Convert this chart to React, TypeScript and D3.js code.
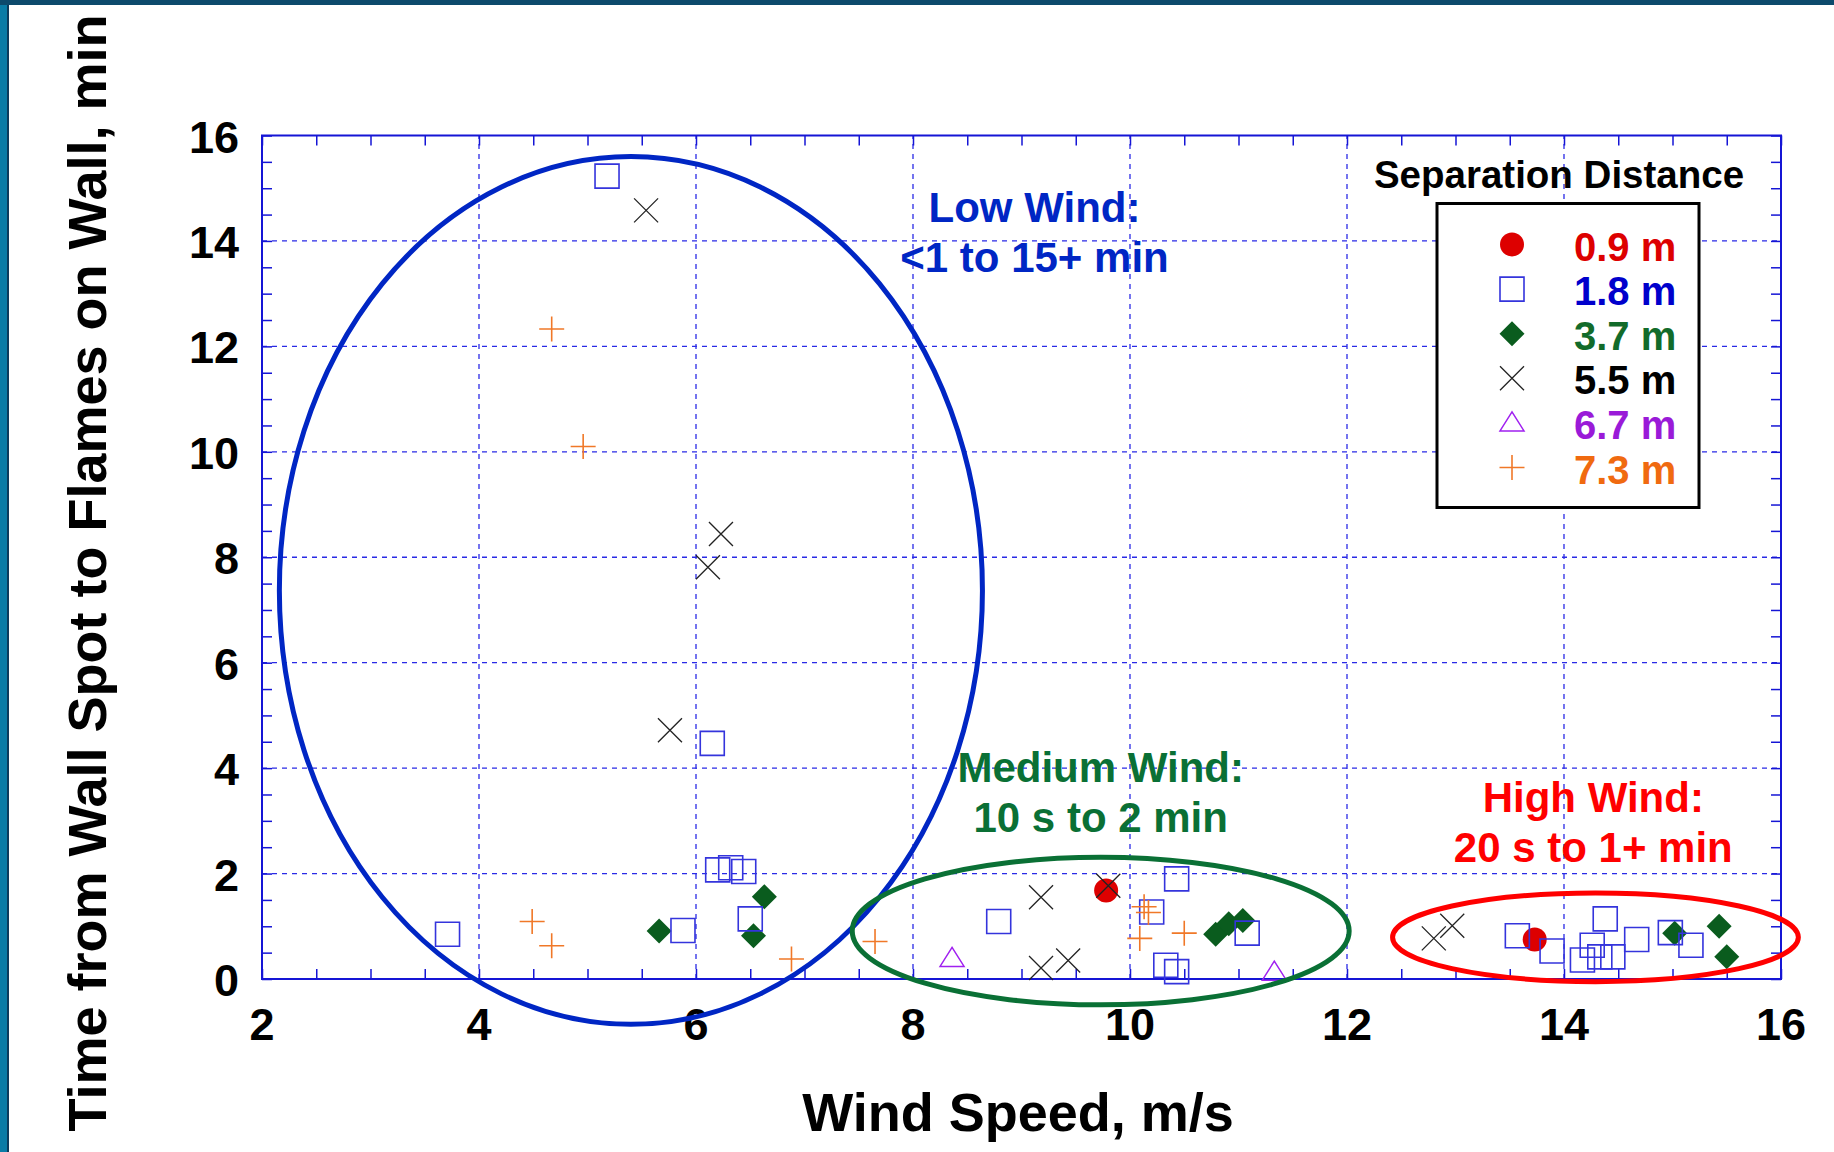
import React, { useEffect, useRef } from 'react';
import * as d3 from 'd3';

const width = 1834;
const height = 1152;

// [wind speed m/s, time min], one list per separation distance
const sep09 = [[9.78, 1.68], [13.73, 0.75]];
const sep18 = [
  [5.18, 15.23], [6.15, 4.47], [6.20, 2.07], [6.32, 2.11], [6.44, 2.04], [6.50, 1.14],
  [5.88, 0.92], [3.71, 0.85], [8.79, 1.09], [10.43, 1.90], [10.20, 1.27], [10.33, 0.26],
  [10.43, 0.14], [11.08, 0.87], [13.57, 0.82], [13.89, 0.53], [14.38, 1.14], [14.26, 0.64],
  [14.17, 0.36], [14.33, 0.42], [14.45, 0.42], [14.67, 0.75], [14.98, 0.88], [15.17, 0.64],
];
const sep37 = [
  [6.63, 1.56], [6.53, 0.82], [5.66, 0.91], [10.79, 0.85], [10.91, 1.05], [11.04, 1.11],
  [15.02, 0.87], [15.43, 1.00], [15.50, 0.42],
];
const sep55 = [
  [5.54, 14.58], [6.23, 8.44], [6.11, 7.81], [5.76, 4.72], [9.18, 1.55], [9.80, 1.77],
  [9.18, 0.21], [9.43, 0.35], [12.80, 0.77], [12.97, 1.01],
];
const sep67 = [[8.36, 0.39], [11.33, 0.13]];
const sep73 = [
  [4.67, 12.33], [4.96, 10.10], [4.49, 1.09], [4.67, 0.63], [6.88, 0.38], [7.65, 0.71],
  [10.13, 1.37], [10.17, 1.26], [10.09, 0.77], [10.50, 0.87],
];

const legendLabels = ['0.9 m', '1.8 m', '3.7 m', '5.5 m', '6.7 m', '7.3 m'];
const xTicks = [2, 4, 6, 8, 10, 12, 14, 16];
const yTicks = [0, 2, 4, 6, 8, 10, 12, 14, 16];

// wind regimes: centre x, centre y, radius x, radius y (data units)
const regions = [
  { cx: 5.40, cy: 7.37, rx: 3.24, ry: 8.23, color: '#0026c4', lines: ['Low Wind:', '<1 to 15+ min'], tx: 9.12, ty: [14.36, 13.42] },
  { cx: 9.73, cy: 0.91, rx: 2.29, ry: 1.40, color: '#0a7035', lines: ['Medium Wind:', '10 s to 2 min'], tx: 9.73, ty: [3.73, 2.78] },
  { cx: 14.29, cy: 0.79, rx: 1.87, ry: 0.84, color: '#ff0000', lines: ['High Wind:', '20 s to 1+ min'], tx: 14.27, ty: [3.17, 2.21] },
];

const font = "'Liberation Sans', Arial, Helvetica, sans-serif";

function App() {
  const ref = useRef(null);

  useEffect(() => {
    const svg = d3.select(ref.current);
    svg.selectAll('*').remove();

    const margin = { top: 135.5, right: 53, bottom: 173, left: 262 };
    const x = d3.scaleLinear().domain([2, 16]).range([margin.left, width - margin.right]);
    const y = d3.scaleLinear().domain([0, 16]).range([height - margin.bottom, margin.top]);
    const axisColor = '#1515d5';

    svg.append('rect').attr('width', width).attr('height', height).attr('fill', '#fff');
    // slide frame
    svg.append('rect').attr('x', 0).attr('y', 0).attr('width', 7).attr('height', height).attr('fill', '#0a7ca6');
    svg.append('rect').attr('x', 7).attr('y', 0).attr('width', 2).attr('height', height).attr('fill', '#0b3c5c');
    svg.append('rect').attr('x', 0).attr('y', 0).attr('width', width).attr('height', 5).attr('fill', '#0d4a6c');

    // grid
    const grid = svg.append('g').attr('stroke', '#2a2ae6').attr('stroke-width', 1.3).attr('stroke-dasharray', '5,5');
    grid.selectAll('.gx').data(xTicks.slice(1, -1)).enter().append('line')
      .attr('x1', d => x(d)).attr('x2', d => x(d)).attr('y1', y(0)).attr('y2', y(16));
    grid.selectAll('.gy').data(yTicks.slice(1, -1)).enter().append('line')
      .attr('y1', d => y(d)).attr('y2', d => y(d)).attr('x1', x(2)).attr('x2', x(16));

    // minor ticks, inside the frame on all four sides
    const xMinor = d3.range(2, 16.001, 0.5);
    const yMinor = d3.range(0, 16.001, 0.5);
    const tickAxis = (g, axis) => g.call(axis).call(g => g.select('.domain').remove())
      .call(g => g.selectAll('line').attr('stroke', axisColor).attr('stroke-width', 1.5));
    svg.append('g').attr('transform', `translate(0,${y(0)})`)
      .call(g => tickAxis(g, d3.axisBottom(x).tickValues(xMinor).tickSize(-10).tickFormat(() => '')));
    svg.append('g').attr('transform', `translate(0,${y(16)})`)
      .call(g => tickAxis(g, d3.axisTop(x).tickValues(xMinor).tickSize(-10).tickFormat(() => '')));
    svg.append('g').attr('transform', `translate(${x(2)},0)`)
      .call(g => tickAxis(g, d3.axisLeft(y).tickValues(yMinor).tickSize(-10).tickFormat(() => '')));
    svg.append('g').attr('transform', `translate(${x(16)},0)`)
      .call(g => tickAxis(g, d3.axisRight(y).tickValues(yMinor).tickSize(-10).tickFormat(() => '')));

    svg.append('rect')
      .attr('x', x(2)).attr('y', y(16)).attr('width', x(16) - x(2)).attr('height', y(0) - y(16))
      .attr('fill', 'none').attr('stroke', axisColor).attr('stroke-width', 2);

    // tick labels
    svg.append('g').selectAll('text').data(xTicks).enter().append('text')
      .attr('x', d => x(d)).attr('y', y(0) + 61)
      .attr('text-anchor', 'middle').attr('font-family', font).attr('font-weight', 'bold').attr('font-size', 45)
      .text(d => d);
    svg.append('g').selectAll('text').data(yTicks).enter().append('text')
      .attr('x', x(2) - 23).attr('y', d => y(d) + 17)
      .attr('text-anchor', 'end').attr('font-family', font).attr('font-weight', 'bold').attr('font-size', 45)
      .text(d => d);

    // axis titles
    svg.append('text')
      .attr('x', 1018).attr('y', 1131).attr('text-anchor', 'middle')
      .attr('font-family', font).attr('font-weight', 'bold').attr('font-size', 54)
      .text('Wind Speed, m/s');
    svg.append('text')
      .attr('transform', 'translate(106,573) rotate(-90)').attr('text-anchor', 'middle')
      .attr('font-family', font).attr('font-weight', 'bold').attr('font-size', 54)
      .text('Time from Wall Spot to Flames on Wall, min');

    // markers
    const circle = d3.symbol().type(d3.symbolCircle).size(Math.PI * 12 * 12)();
    const square = 'M-12,-12H12V12H-12Z';
    const diamond = 'M0,-12.5L12.5,0L0,12.5L-12.5,0Z';
    const cross = 'M-12,-12L12,12M12,-12L-12,12';
    const triangle = 'M0,-11L12,8L-12,8Z';
    const plus = 'M-12.5,0H12.5M0,-12.5V12.5';

    const series = [
      { data: sep09, path: circle, fill: '#dd0000', stroke: 'none', width: 0, text: '#dd0000' },
      { data: sep37, path: diamond, fill: '#0a5c1e', stroke: 'none', width: 0, text: '#126b2a' },
      { data: sep18, path: square, fill: 'none', stroke: '#3434dc', width: 1.6, text: '#0000cc' },
      { data: sep55, path: cross, fill: 'none', stroke: '#222', width: 1.3, text: '#000' },
      { data: sep67, path: triangle, fill: 'none', stroke: '#a020f0', width: 1.5, text: '#9a1ad8' },
      { data: sep73, path: plus, fill: 'none', stroke: '#f07828', width: 1.6, text: '#f06a10' },
    ];
    const legendOrder = [sep09, sep18, sep37, sep55, sep67, sep73];

    series.forEach(s => {
      svg.append('g').selectAll('path').data(s.data).enter().append('path')
        .attr('transform', d => `translate(${x(d[0])},${y(d[1])})`)
        .attr('d', s.path).attr('fill', s.fill).attr('stroke', s.stroke).attr('stroke-width', s.width);
    });

    // regime ellipses and notes
    regions.forEach(r => {
      svg.append('ellipse')
        .attr('cx', x(r.cx)).attr('cy', y(r.cy))
        .attr('rx', x(r.cx + r.rx) - x(r.cx)).attr('ry', y(r.cy - r.ry) - y(r.cy))
        .attr('fill', 'none').attr('stroke', r.color).attr('stroke-width', 5);
      r.lines.forEach((t, i) => {
        svg.append('text')
          .attr('x', x(r.tx)).attr('y', y(r.ty[i])).attr('text-anchor', 'middle')
          .attr('font-family', font).attr('font-weight', 'bold').attr('font-size', 42)
          .attr('fill', r.color).text(t);
      });
    });

    // legend
    const lg = svg.append('g');
    lg.append('text')
      .attr('x', 1559).attr('y', 188).attr('text-anchor', 'middle')
      .attr('font-family', font).attr('font-weight', 'bold').attr('font-size', 38.5)
      .text('Separation Distance');
    lg.append('rect')
      .attr('x', 1437).attr('y', 203.5).attr('width', 262).attr('height', 304)
      .attr('fill', '#fff').attr('stroke', '#000').attr('stroke-width', 3);
    legendOrder.forEach((arr, i) => {
      const s = series.find(v => v.data === arr);
      const cy = 244.5 + i * 44.6;
      lg.append('path')
        .attr('transform', `translate(1512,${cy})`)
        .attr('d', s.path).attr('fill', s.fill).attr('stroke', s.stroke).attr('stroke-width', s.width);
      lg.append('text')
        .attr('x', 1574).attr('y', cy + 16)
        .attr('font-family', font).attr('font-weight', 'bold').attr('font-size', 40)
        .attr('fill', s.text).text(legendLabels[i]);
    });
  }, []);

  return (
    <svg ref={ref} width={width} height={height}
      style={{ position: 'absolute', left: 0, top: 0, display: 'block' }} />
  );
}

export default App;
